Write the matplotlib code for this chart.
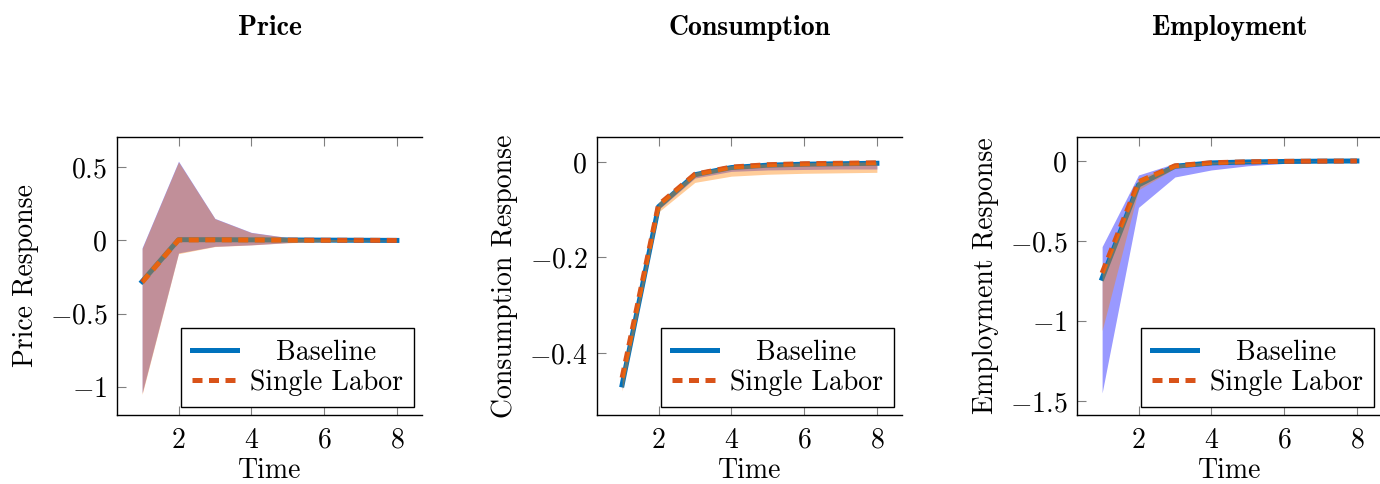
import numpy as np
import matplotlib
matplotlib.use("Agg")
import matplotlib.pyplot as plt
from matplotlib.ticker import FuncFormatter

# Data
time = [1, 2, 3, 4, 5, 6, 7, 8]

price_base = [-0.28, 0.005, 0.005, 0.004, 0.003, 0.002, 0.001, 0.0]
price_single = [-0.285, 0.003, 0.004, 0.003, 0.002, 0.001, 0.001, 0.0]
price_base_lo = [-1.04, -0.085, -0.04, -0.03, -0.015, -0.008, -0.004, -0.002]
price_base_hi = [-0.05, 0.54, 0.15, 0.055, 0.02, 0.01, 0.005, 0.002]
price_single_lo = [-1.05, -0.09, -0.042, -0.031, -0.016, -0.009, -0.005, -0.003]
price_single_hi = [-0.055, 0.535, 0.148, 0.053, 0.019, 0.009, 0.004, 0.002]

cons_base = [-0.467, -0.094, -0.027, -0.012, -0.007, -0.005, -0.004, -0.003]
cons_single = [-0.452, -0.09, -0.026, -0.011, -0.006, -0.004, -0.003, -0.002]
cons_base_lo = [-0.475, -0.10, -0.034, -0.02, -0.017, -0.016, -0.015, -0.015]
cons_base_hi = [-0.455, -0.088, -0.024, -0.009, -0.005, -0.003, -0.002, -0.001]
cons_single_lo = [-0.48, -0.105, -0.043, -0.03, -0.026, -0.024, -0.023, -0.022]
cons_single_hi = [-0.445, -0.085, -0.022, -0.008, -0.004, -0.002, -0.001, 0.0]

emp_base = [-0.733, -0.15, -0.033, -0.012, -0.006, -0.003, -0.001, 0.0]
emp_single = [-0.70, -0.13, -0.03, -0.011, -0.005, -0.002, -0.001, 0.0]
emp_base_lo = [-1.45, -0.29, -0.10, -0.056, -0.03, -0.015, -0.008, -0.004]
emp_base_hi = [-0.535, -0.0875, -0.015, -0.005, -0.002, -0.001, 0.0, 0.0]
emp_single_lo = [-1.06, -0.18, -0.045, -0.02, -0.01, -0.005, -0.002, -0.001]
emp_single_hi = [-0.70, -0.11, -0.02, -0.006, -0.003, -0.001, 0.0, 0.0]

titles = ["Price", "Consumption", "Employment"]
ylabels = ["Price Response", "Consumption Response", "Employment Response"]
ylims = [(-1.19, 0.705), (-0.53, 0.052), (-1.5875, 0.15)]
yticks = [[-1, -0.5, 0, 0.5], [-0.4, -0.2, 0], [-1.5, -1, -0.5, 0]]

panels = [
    (price_base, price_single, price_base_lo, price_base_hi, price_single_lo, price_single_hi),
    (cons_base, cons_single, cons_base_lo, cons_base_hi, cons_single_lo, cons_single_hi),
    (emp_base, emp_single, emp_base_lo, emp_base_hi, emp_single_lo, emp_single_hi),
]

plt.rcParams['font.family'] = 'cmr10'
plt.rcParams['mathtext.fontset'] = 'cm'
plt.rcParams['font.size'] = 20

fig = plt.figure(figsize=(13.8, 4.84), dpi=100)
renderer = fig.canvas.get_renderer()

W, H = 1380.0, 484.0
lefts = [117, 597, 1077]
fmt = FuncFormatter(lambda v, p: "$%g$" % v)

for i, (base, single, blo, bhi, slo, shi) in enumerate(panels):
    ax = fig.add_axes([lefts[i] / W, (H - 415) / H, 305 / W, 278 / H])

    # baseline band, then lines, then single-labor band on top
    ax.fill_between(time, blo, bhi, color=(0, 0, 1), alpha=0.4, lw=0, zorder=1)
    ax.plot(time, base, color='#0072BD', lw=3.6, label='Baseline', zorder=2)
    ax.plot(time, single, color='#D95319', lw=3.6, ls=(0, (2.0, 1.3)),
            label='Single Labor', zorder=3)
    ax.fill_between(time, slo, shi, color=(1, 0.5, 0), alpha=0.4, lw=0, zorder=4)

    ax.set_xlim(0.31, 8.69)
    ax.set_ylim(*ylims[i])
    ax.set_xticks([2, 4, 6, 8])
    ax.set_yticks(yticks[i])
    ax.xaxis.set_major_formatter(fmt)
    ax.yaxis.set_major_formatter(fmt)
    ax.tick_params(direction='in', length=6.5, width=0.8, color='0.5',
                   top=True, right=False, labelsize=20)
    ax.tick_params(axis='x', pad=9)
    ax.tick_params(axis='y', pad=7)
    ax.spines['right'].set_visible(False)
    for s in ax.spines.values():
        s.set_linewidth(1.0)

    ax.set_xlabel('Time', fontsize=20, labelpad=3)
    ax.set_ylabel(ylabels[i], fontsize=20, labelpad=8)
    ax.text(0.5, 1.392, titles[i], transform=ax.transAxes, ha='center', va='center',
            fontsize=20, family='cmb10')

    leg = ax.legend(loc='lower right', fontsize=20, frameon=True, fancybox=False,
                    edgecolor='black', framealpha=1, handlelength=1.62,
                    handletextpad=0.45, borderaxespad=0.3, borderpad=0.4,
                    labelspacing=0.12)
    leg.get_frame().set_linewidth(1.0)

    # centre the legend labels in their column, like pgfplots does
    texts = leg.get_texts()
    widths = [t.get_window_extent(renderer).width for t in texts]
    rows = leg._legend_handle_box.get_children()[0].get_children()
    for row, w in zip(rows, widths):
        row.sep += (max(widths) - w) / 2 * 72.0 / fig.dpi

fig.savefig('out.png', dpi=100)
